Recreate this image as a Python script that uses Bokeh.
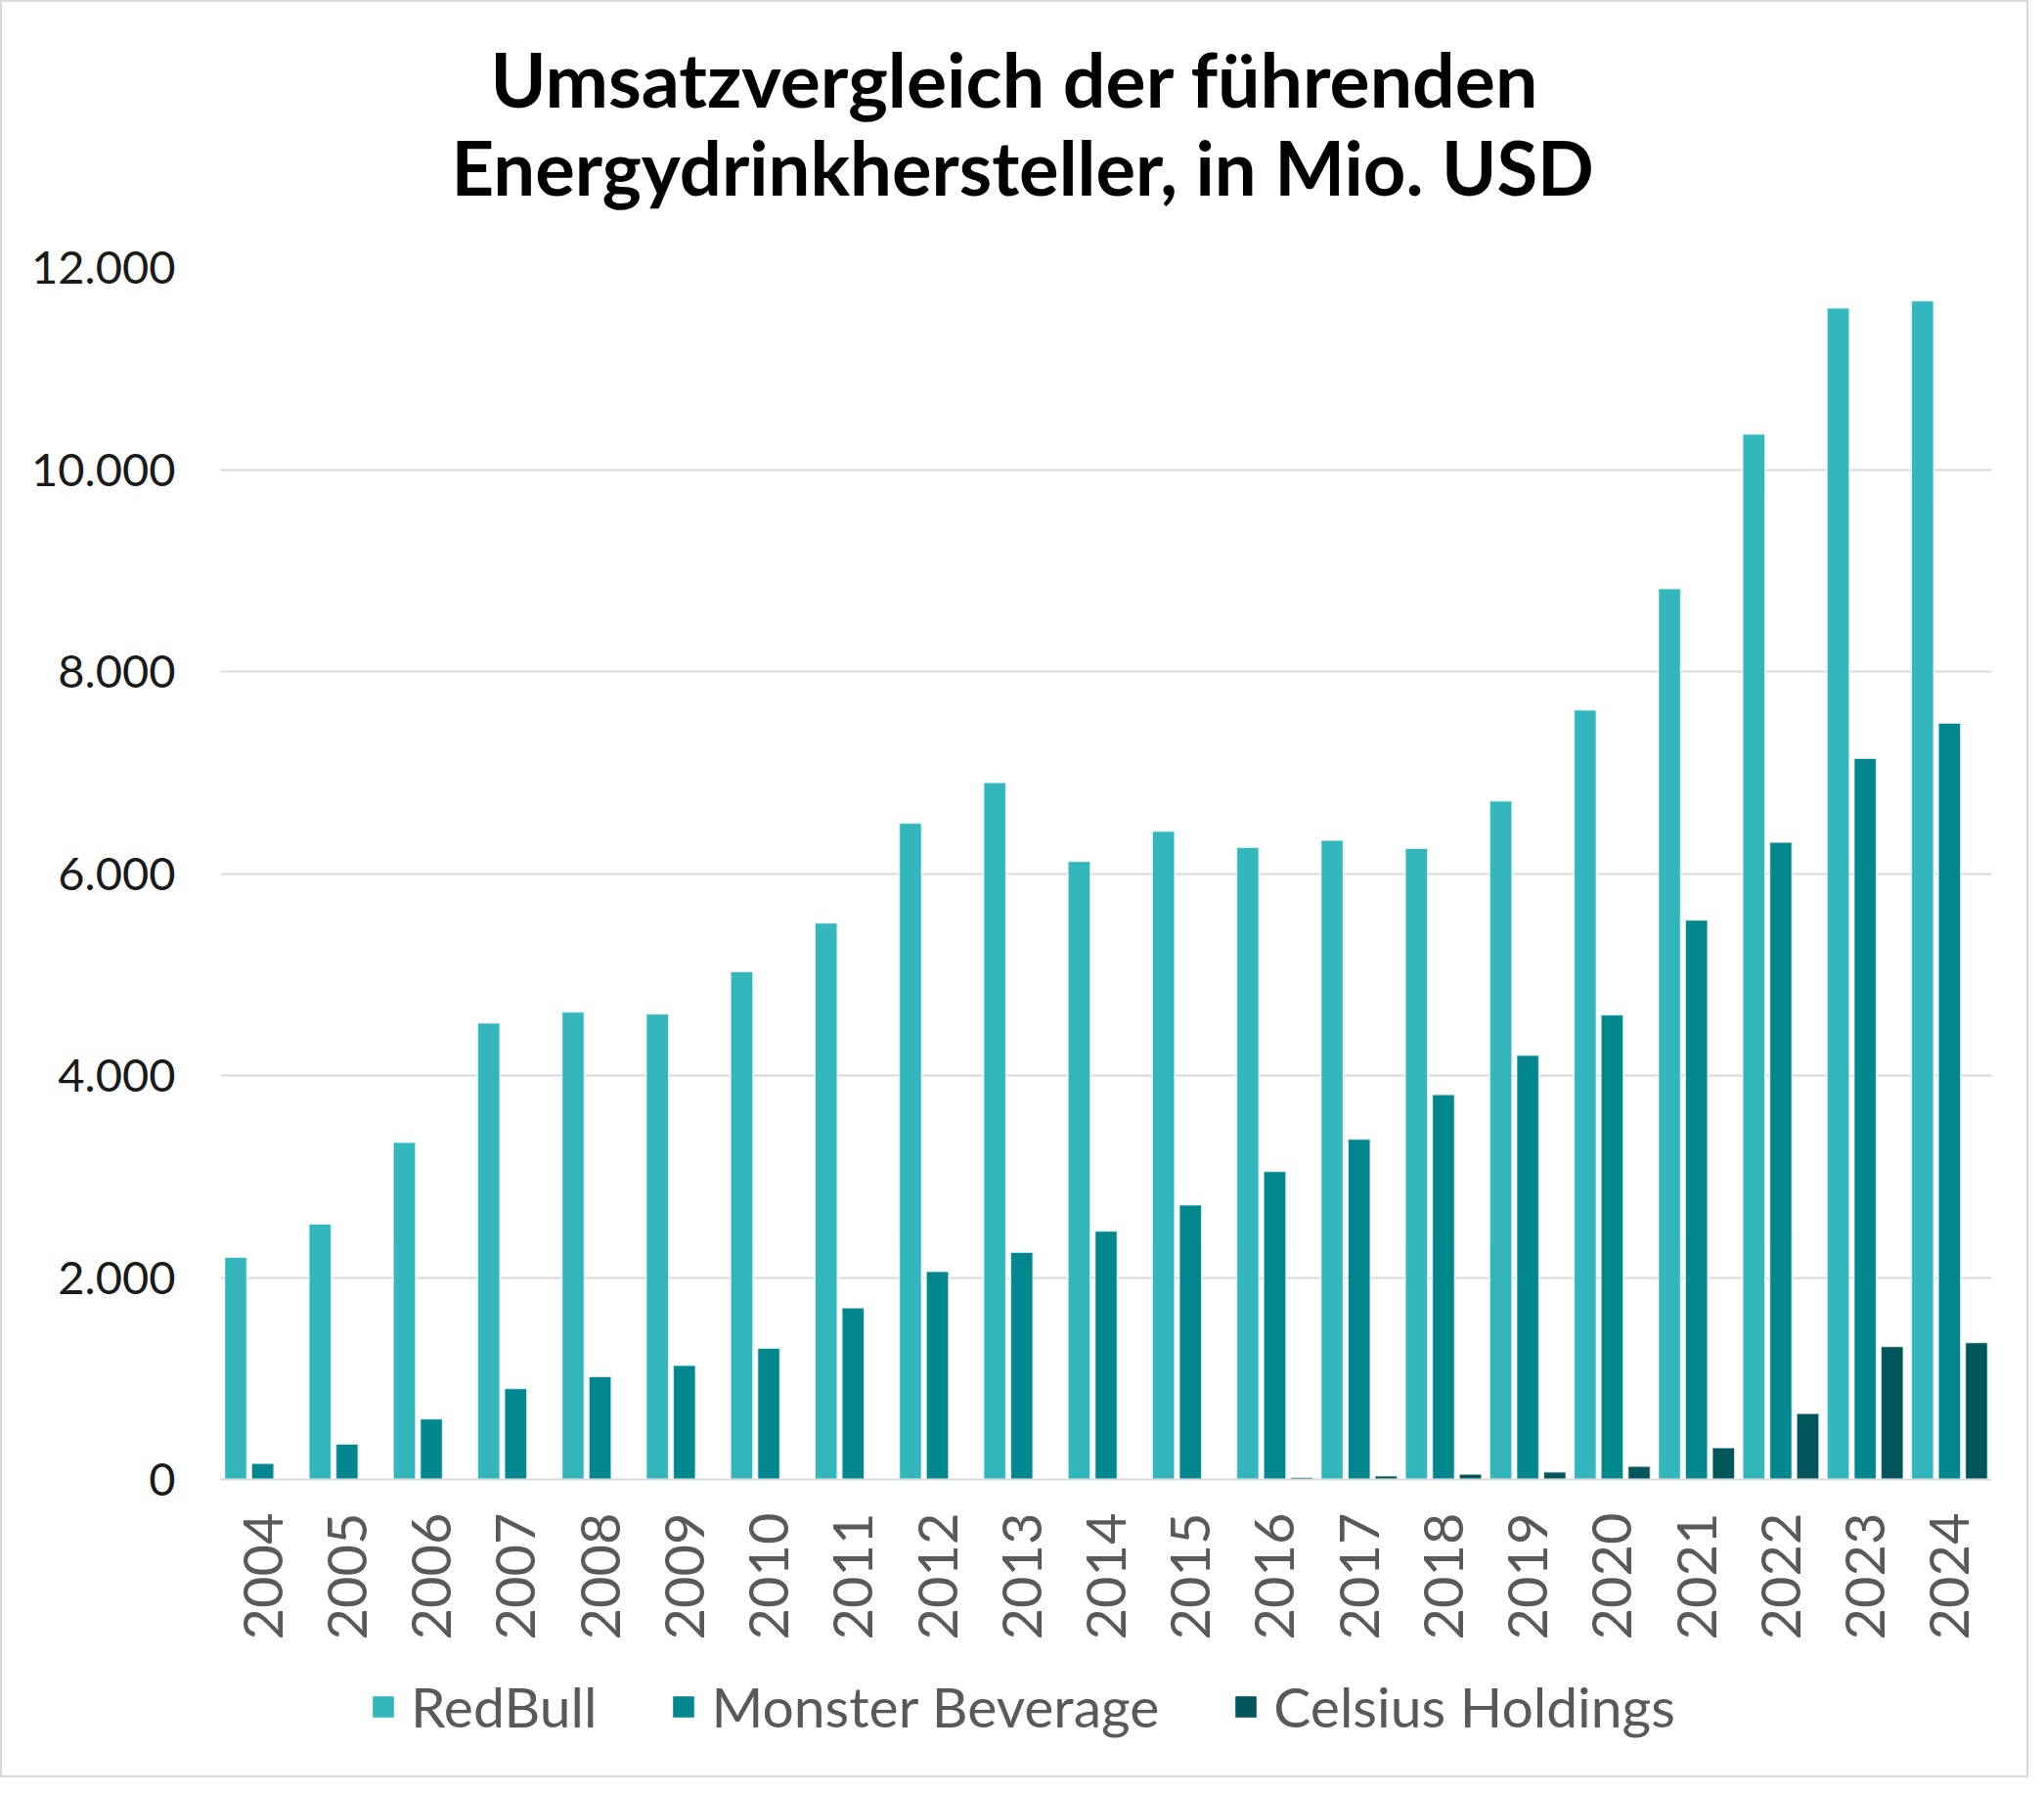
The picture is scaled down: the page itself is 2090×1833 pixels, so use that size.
from bokeh.plotting import figure
from bokeh.models import FactorRange, FixedTicker, Legend, LegendItem, Title, ColumnDataSource, Range1d
from bokeh.layouts import column
from bokeh.transform import dodge
from bokeh.embed import file_html
from bokeh.resources import INLINE
import math

years = [str(y) for y in range(2004, 2025)]
redbull = [2200, 2530, 3340, 4520, 4630, 4610, 5030, 5510, 6500, 6900, 6120,
           6420, 6260, 6330, 6250, 6720, 7620, 8820, 10350, 11600, 11670]
monster = [160, 350, 600, 900, 1020, 1130, 1300, 1700, 2060, 2250, 2460,
           2720, 3050, 3370, 3810, 4200, 4600, 5540, 6310, 7140, 7490]
celsius = [0, 0, 0, 0, 0, 0, 0, 0, 0, 0, 0,
           0, 23, 36, 53, 75, 131, 314, 654, 1318, 1356]
series_names = ["RedBull", "Monster Beverage", "Celsius Holdings"]
colors = ["#33B7BC", "#03878F", "#00565A"]
y_ticks = [0, 2000, 4000, 6000, 8000, 10000, 12000]
y_tick_labels = ["0", "2.000", "4.000", "6.000", "8.000", "10.000", "12.000"]
title_lines = ["Umsatzvergleich der führenden", "Energydrinkhersteller, in Mio. USD"]

FONT = "Lato"
W = 2070
BL, BR = 223, 36

src = ColumnDataSource(dict(year=years, redbull=redbull, monster=monster, celsius=celsius))

p = figure(width=W, height=1698, x_range=FactorRange(factors=years, range_padding=0),
           y_range=(0, 12000), output_backend="svg", toolbar_location=None,
           min_border_left=BL, min_border_right=BR, min_border_top=271, min_border_bottom=188)
p.outline_line_color = None
p.title.visible = False

for col, off, c in zip(["redbull", "monster", "celsius"], [-0.32, 0.0, 0.32], colors):
    p.vbar(x=dodge("year", off, range=p.x_range), top=col, width=0.265, source=src,
           fill_color=c, line_color="#FFFFFF", line_width=1.5, line_alpha=0.7)

p.xgrid.grid_line_color = None
p.ygrid.grid_line_color = "#D9D9D9"
p.ygrid.grid_line_width = 2
p.ygrid.ticker = FixedTicker(ticks=y_ticks)

p.yaxis.ticker = FixedTicker(ticks=y_ticks)
p.yaxis.major_label_overrides = {t: l for t, l in zip(y_ticks, y_tick_labels)}
p.yaxis.axis_line_color = None
p.yaxis.major_tick_line_color = None
p.yaxis.minor_tick_line_color = None
p.yaxis.major_label_standoff = 40
p.yaxis.major_label_text_font = FONT
p.yaxis.major_label_text_font_size = "47px"
p.yaxis.major_label_text_color = "#1a1a1a"

p.xaxis.axis_line_color = "#D9D9D9"
p.xaxis.axis_line_width = 2
p.xaxis.major_tick_line_color = None
p.xaxis.minor_tick_line_color = None
p.xaxis.major_label_orientation = math.pi / 2
p.xaxis.major_label_standoff = 28
p.xaxis.major_label_text_font = FONT
p.xaxis.major_label_text_font_size = "56px"
p.xaxis.major_label_text_color = "#595959"

# two title lines: the first added sits next to the frame
t2 = Title(text=title_lines[1], align="left", offset=236, standoff=115,
           text_font=FONT, text_font_style="bold", text_font_size="76px", text_color="#000000")
t1 = Title(text=title_lines[0], align="left", offset=276, standoff=-121,
           text_font=FONT, text_font_style="bold", text_font_size="77px", text_color="#000000")
p.add_layout(t2, "above")
p.add_layout(t1, "above")

# legend strip below the chart (legend-only renderers carry no drawable value)
lg = figure(width=W, height=115, x_range=Range1d(0, 1), y_range=Range1d(0, 1),
            output_backend="svg", toolbar_location=None,
            min_border_left=BL, min_border_right=BR, min_border_top=0, min_border_bottom=27)
lg.axis.visible = False
lg.grid.visible = False
lg.outline_line_color = None
lg.title.visible = False
items = []
for n, c in zip(series_names, colors):
    r = lg.vbar(x=[0.5], top=[float("nan")], bottom=[float("nan")], width=0.1,
                fill_color=c, line_color=None)
    items.append(LegendItem(label=n, renderers=[r]))
legend = Legend(items=items, orientation="horizontal", location="center_left")
legend.label_text_font = FONT
legend.label_text_font_size = "57px"
legend.label_text_color = "#595959"
legend.glyph_width = 27
legend.glyph_height = 27
legend.label_standoff = 15
legend.spacing = 75
legend.padding = 0
legend.margin = 153
legend.border_line_color = None
legend.background_fill_alpha = 0
lg.add_layout(legend, "center")

page = column(p, lg, spacing=0)
page.styles = {"border": "2px solid #D9D9D9"}

open("out.html", "w").write(file_html(page, INLINE))
